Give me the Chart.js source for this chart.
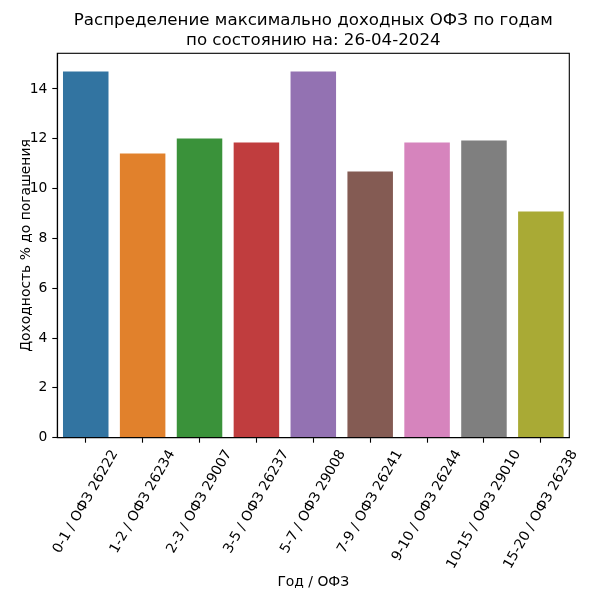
<!DOCTYPE html>
<html>
<head>
<meta charset="utf-8">
<script src="https://cdn.jsdelivr.net/npm/chart.js@4.4.1/dist/chart.umd.min.js"></script>
<style>
  body { margin: 0; background: #fff; }
</style>
</head>
<body>
<canvas id="myChart" width="589" height="599"></canvas>
<script>
'use strict';

const labels = [
  '0-1 / ОФЗ 26222', '1-2 / ОФЗ 26234', '2-3 / ОФЗ 29007', '3-5 / ОФЗ 26237',
  '5-7 / ОФЗ 29008', '7-9 / ОФЗ 26241', '9-10 / ОФЗ 26244', '10-15 / ОФЗ 29010',
  '15-20 / ОФЗ 26238',
];
const yields = [14.70, 11.41, 12.01, 11.85, 14.70, 10.69, 11.85, 11.93, 9.08];
const colors = [
  '#3274a1', '#e1812c', '#3a923a', '#c03d3e', '#9372b2',
  '#845b53', '#d684bd', '#7f7f7f', '#a9aa35',
];
const titleLines = ['Распределение максимально доходных ОФЗ по годам', 'по состоянию на: 26-04-2024'];

const FONT = 'DejaVu Sans';
const TICK_SIZE = 13.89;

// рамка, заголовок по центру осей и повернутые подписи (центр по тику, как в matplotlib)
const framePlugin = {
  id: 'frame',
  afterDraw(chart) {
    const { ctx, chartArea: a } = chart;
    const xs = chart.scales.x;
    ctx.save();
    ctx.strokeStyle = '#000';
    ctx.lineWidth = 1.1;
    ctx.strokeRect(a.left, a.top, a.right - a.left, a.bottom - a.top);
    ctx.fillStyle = '#000';

    ctx.font = '16.67px "' + FONT + '"';
    ctx.textAlign = 'center';
    ctx.textBaseline = 'alphabetic';
    const cx = (a.left + a.right) / 2;
    ctx.fillText(titleLines[0], cx, 25);
    ctx.fillText(titleLines[1], cx, 45);

    ctx.font = TICK_SIZE + 'px "' + FONT + '"';
    ctx.textBaseline = 'middle';
    const ang = Math.PI / 3;
    const h = TICK_SIZE * 1.16;
    const top = a.bottom + 9.7;
    chart.data.labels.forEach((lab, i) => {
      const w = ctx.measureText(lab).width;
      const boxH = w * Math.sin(ang) + h * Math.cos(ang);
      ctx.save();
      ctx.translate(xs.getPixelForTick(i), top + boxH / 2);
      ctx.rotate(-ang);
      ctx.fillText(lab, 0, 0);
      ctx.restore();
    });
    ctx.restore();
  },
};

const config = {
  type: 'bar',
  data: {
    labels: labels,
    datasets: [{
      data: yields,
      backgroundColor: colors,
      borderWidth: 0,
      categoryPercentage: 0.8,
      barPercentage: 1.0,
    }],
  },
  options: {
    responsive: false,
    devicePixelRatio: 1,
    animation: false,
    layout: { padding: { top: 53.3, right: 19.7, bottom: 0, left: 0 } },
    plugins: {
      legend: { display: false },
      tooltip: { enabled: false },
    },
    scales: {
      x: {
        offset: true,
        grid: { offset: false, drawOnChartArea: false, drawTicks: true, tickLength: 5, tickColor: '#000', tickWidth: 1.1 },
        border: { display: true, color: '#000', width: 1.1 },
        ticks: { display: false, autoSkip: false },
        title: {
          display: true,
          text: 'Год / ОФЗ',
          color: '#000',
          font: { family: FONT, size: TICK_SIZE },
          padding: { top: 0, bottom: 8 },
        },
        afterFit(scale) { scale.height = 161.3; },
      },
      y: {
        min: 0,
        max: 15.43,
        grid: { drawOnChartArea: false, drawTicks: true, tickLength: 5, tickColor: '#000', tickWidth: 1.1 },
        border: { display: true, color: '#000', width: 1.1 },
        ticks: {
          stepSize: 2,
          includeBounds: false,
          color: '#000',
          font: { family: FONT, size: TICK_SIZE },
          padding: 5,
        },
        title: {
          display: true,
          text: 'Доходность % до погашения',
          color: '#000',
          font: { family: FONT, size: TICK_SIZE },
          padding: { top: 18, bottom: 0 },
        },
        afterFit(scale) { scale.width = 57.3; },
      },
    },
  },
  plugins: [framePlugin],
};

const myChart = new Chart(document.getElementById('myChart'), config);
</script>
</body>
</html>
